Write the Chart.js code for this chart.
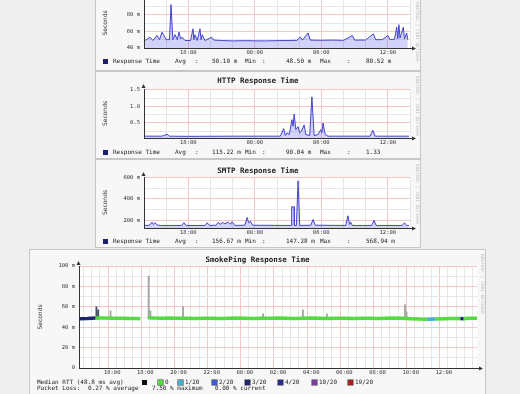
<!DOCTYPE html>
<html>
<head>
<title>Response Time Graphs</title>
<script src="https://cdn.jsdelivr.net/npm/chart.js"></script>
<style>
  body { margin: 0; width: 520px; height: 394px; overflow: hidden; position: relative; background: #efefef; }
  .panel { position: absolute; background: #f7f7f7; box-shadow: 0 0 0 1px #c6c6c6; }
  .panel canvas { position: absolute; left: 0; top: 0; }
  .txt { position: absolute; font: 6px/8px "DejaVu Sans Mono", monospace; color: #222; white-space: pre; }
  .title { position: absolute; left: 0; right: 0; text-align: center; font: bold 7.5px/8px "DejaVu Sans Mono", monospace; color: #222; }
  .sw { position: absolute; width: 5px; height: 5px; }
  .mark { position: absolute; font: 4.5px/5px "DejaVu Sans Mono", monospace; color: #bdbdbd; transform: rotate(90deg); transform-origin: left top; white-space: nowrap; }
</style>
</head>
<body>
  <div class="panel" id="pA" style="left:96px; top:-16px; width:324px; height:86px"><canvas id="cA" width="324" height="86"></canvas></div>
  <div class="panel" id="pB" style="left:96px; top:72px; width:324px; height:86px"><canvas id="cB" width="324" height="86"></canvas></div>
  <div class="panel" id="pC" style="left:96px; top:160px; width:324px; height:87px"><canvas id="cC" width="324" height="87"></canvas></div>
  <div class="panel" id="pD" style="left:30px; top:250px; width:455px; height:150px"><canvas id="cD" width="455" height="144"></canvas></div>

<script>
// 24 hours, 14:00 -> 14:00, x values are hours since start
const dayTickHours = [4, 10, 16, 22];
const dayTickLabels = ['18:00', '00:00', '06:00', '12:00'];

const topHours = [0.1, 0.54, 0.8, 1.17, 1.4, 1.62, 1.8, 2.0, 2.3, 2.44, 2.6, 2.8, 3.0, 3.16, 3.3, 3.43, 3.7, 4.2, 4.42, 4.5,
  4.6, 4.8, 5.05, 5.15, 5.25, 5.5, 6.1, 6.3, 7, 8, 9, 10, 11, 12, 13, 13.8, 14.1, 14.3, 14.8, 15.0,
  16, 17, 18, 18.8, 19.0, 20, 20.7, 20.9, 21.5, 22.0, 22.2, 22.6, 22.8, 22.9, 23.0, 23.1, 23.4, 23.5, 23.7, 23.8];
const topValues = [49, 53, 49, 55, 50, 59, 55, 50, 50, 92, 50, 56, 50, 59, 51, 53, 49, 49, 63, 50,
  56, 49, 63, 50, 56, 49, 53, 49.5, 49, 48.5, 48.8, 48.6, 48.5, 48.8, 49, 49.2, 53, 49.5, 58, 49.5,
  49.3, 49.5, 49.2, 55, 49.5, 49.6, 57, 50, 50, 55, 50, 50.5, 65, 51, 68, 52, 65, 51, 58, 50];
const topStats = ['50.10 m', '48.50 m', '80.52 m'];

const httpHours = [0.1, 1.6, 1.8, 2.08, 2.3, 4, 8, 12.3, 12.6, 12.75, 12.9, 13.1, 13.35, 13.45, 13.55, 13.7, 13.9,
  14.05, 14.2, 14.45, 14.6, 14.95, 15.15, 15.35, 15.7, 15.95, 16.05, 16.15, 16.35, 16.6, 20.4, 20.65, 20.85, 23.9];
const httpValues = [0.1, 0.1, 0.12, 0.16, 0.1, 0.095, 0.1, 0.1, 0.33, 0.12, 0.2, 0.15, 0.6, 0.4, 0.77, 0.3, 0.39,
  0.2, 0.25, 0.44, 0.15, 0.12, 1.29, 0.12, 0.15, 0.3, 0.2, 0.5, 0.15, 0.1, 0.1, 0.28, 0.1, 0.1];
const httpStats = ['115.22 m', '90.04 m', '1.33'];

const smtpHours = [0.1, 0.5, 0.72, 0.85, 1.0, 1.2, 1.5, 3.4, 3.6, 3.8, 5.5, 5.7, 5.9, 6.5, 6.7, 6.85, 7.1, 7.3, 7.6,
  7.8, 7.95, 8.2, 9.1, 9.3, 9.45, 9.6, 9.8, 13.3, 13.32, 13.55, 13.57, 13.75, 13.9, 14.05, 15.05, 15.25, 15.45,
  18.2, 18.4, 18.55, 18.65, 18.8, 20.55, 20.75, 20.95, 23.3, 23.5, 23.7, 23.9];
const smtpValues = [150, 152, 182, 160, 175, 155, 150, 150, 176, 150, 150, 176, 150, 152, 180, 160, 178, 165, 182,
  162, 185, 150, 152, 225, 175, 190, 152, 150, 325, 325, 150, 150, 569, 150, 152, 205, 152,
  150, 241, 160, 180, 150, 150, 198, 150, 150, 175, 150, 150];
const smtpStats = ['156.67 m', '147.28 m', '568.94 m'];

const pingTickHours = [2, 4, 6, 8, 10, 12, 14, 16, 18, 20, 22];
const pingTickLabels = ['16:00', '18:00', '20:00', '22:00', '00:00', '02:00', '04:00', '06:00', '08:00', '10:00', '12:00'];
const medianHours = [0, 0.5, 1, 1.5, 2, 2.5, 3, 3.5, 3.7, 3.9, 4.15, 4.5, 5, 5.5, 6, 6.5, 7, 7.5, 8, 8.5,
  9, 9.5, 10, 10.5, 11, 11.5, 12, 12.5, 13, 13.5, 14, 14.5, 15, 15.5, 16, 16.5, 17, 17.5, 18, 18.5,
  19, 19.5, 20, 20.5, 21, 21.5, 22, 22.5, 23, 23.2, 23.5, 24];
const medianValues = [48.4, 48.6, 49.0, 48.9, 48.7, 48.8, 48.6, 48.5, 48.3, null, 49.3, 49.0, 48.8, 48.9, 48.7, 48.8, 48.6, 48.7, 48.8, 48.6,
  48.7, 48.9, 48.8, 48.6, 48.7, 48.8, 48.9, 48.7, 48.6, 48.8, 48.9, 48.7, 48.6, 48.8, 48.7, 48.6, 48.8, 48.7, 48.6, 48.8,
  48.9, 48.7, 48.4, 48.0, 47.8, 48.0, 48.4, 48.6, 48.5, 48.3, 48.7, 48.8];
const medianLoss = [3, 3, 0, 0, 0, 0, 0, 0, 0, 0, 0, 0, 0, 0, 0, 0, 0, 0, 0, 0,
  0, 0, 0, 0, 0, 0, 0, 0, 0, 0, 0, 0, 0, 0, 0, 0, 0, 0, 0, 0,
  0, 0, 0, 0, 1, 0, 0, 0, 3, 0, 0, 0];
const smokeHours = [1.05, 1.15, 1.9, 4.2, 4.3, 6.27, 11.1, 13.5, 14.95, 19.66, 19.75];
const smokeLow = [48, 48, 49, 49, 49, 49, 49, 49, 49, 49, 49];
const smokeHigh = [60, 57, 56, 90, 56, 60, 53, 57, 53, 62, 55];
const lossLabels = ['0', '1/20', '2/20', '3/20', '4/20', '10/20', '19/20'];
const lossColors = ['#52dc3e', '#3fb0d0', '#3a5fcf', '#1e2470', '#2c2a8c', '#7e3c9e', '#a02424'];

const MAJOR = '#f5c6c6', MINOR = '#e6e6e6';
const tickFont = { family: 'DejaVu Sans Mono', size: 5.5 };

function steps(a, b, s) { const r = []; for (let v = a; v <= b + 1e-9; v += s) r.push(v); return r; }

const plotBg = {
  id: 'plotBg',
  beforeDraw(c) {
    const a = c.chartArea;
    c.ctx.save();
    c.ctx.fillStyle = '#ffffff';
    c.ctx.fillRect(a.left, a.top, a.right - a.left, a.bottom - a.top);
    c.ctx.restore();
  }
};
const axisArrows = {
  id: 'axisArrows',
  afterDraw(c) {
    const a = c.chartArea, ctx = c.ctx;
    ctx.save();
    ctx.strokeStyle = ctx.fillStyle = '#333';
    ctx.lineWidth = 1;
    ctx.beginPath(); ctx.moveTo(a.right, a.bottom + 0.5); ctx.lineTo(a.right + 3, a.bottom + 0.5); ctx.stroke();
    ctx.beginPath(); ctx.moveTo(a.right + 6, a.bottom + 0.5); ctx.lineTo(a.right + 2, a.bottom - 1.5); ctx.lineTo(a.right + 2, a.bottom + 2.5); ctx.fill();
    ctx.beginPath(); ctx.moveTo(a.left - 0.5, a.top - 5); ctx.lineTo(a.left - 2.5, a.top - 1); ctx.lineTo(a.left + 1.5, a.top - 1); ctx.fill();
    ctx.restore();
  }
};

function label(list, labels) {
  return v => { const i = list.indexOf(v); return i < 0 ? '' : labels[i]; };
}

function rrdChart(id, o) {
  return new Chart(document.getElementById(id), {
    type: 'line',
    data: { datasets: o.datasets },
    options: {
      responsive: false,
      animation: false,
      events: [],
      layout: { padding: { top: o.top, right: o.right, bottom: 0, left: 0 } },
      plugins: { legend: { display: false }, tooltip: { enabled: false } },
      elements: { point: { radius: 0 }, line: { tension: 0 } },
      scales: {
        x: {
          type: 'linear', min: 0, max: 24, offset: false,
          afterFit: s => { s.height = o.bottom; },
          afterBuildTicks: s => { s.ticks = o.xGrid.map(v => ({ value: v })); },
          ticks: { autoSkip: false, maxRotation: 0, padding: 1, color: '#333', font: tickFont,
                   callback: label(o.xMajor, o.xLabels) },
          grid: { drawTicks: false, color: c => (c.tick && o.xMajor.includes(c.tick.value)) ? MAJOR : MINOR },
          border: { color: '#333' }
        },
        y: {
          type: 'linear', min: o.yMin, max: o.yMax,
          afterFit: s => { s.width = o.left; },
          afterBuildTicks: s => { s.ticks = o.yGrid.map(v => ({ value: v })); },
          ticks: { autoSkip: false, padding: 4, color: '#333', font: tickFont,
                   callback: label(o.yMajor, o.yLabels) },
          grid: { drawTicks: false, color: c => (c.tick && o.yMajor.includes(c.tick.value)) ? MAJOR : MINOR },
          border: { color: '#333' },
          title: { display: true, text: 'Seconds', color: '#333', font: { family: 'DejaVu Sans', size: 6 },
                   padding: { top: o.titlePad, bottom: 0 } }
        }
      }
    },
    plugins: [plotBg, axisArrows]
  });
}

function respSeries(hours, values) {
  return {
    data: hours.map((h, i) => ({ x: h, y: values[i] })),
    borderColor: '#4444cc', borderWidth: 1,
    backgroundColor: 'rgba(110,110,235,0.3)', fill: 'start'
  };
}

const dayGrid = steps(0, 24, 2);

rrdChart('cA', {
  top: 14, right: 10, bottom: 22, left: 48, titlePad: 5.4,
  xGrid: dayGrid, xMajor: dayTickHours, xLabels: dayTickLabels,
  yMin: 40, yMax: 100, yGrid: steps(40, 100, 10), yMajor: [40, 60, 80], yLabels: ['40 m', '60 m', '80 m'],
  datasets: [respSeries(topHours, topValues)]
});
rrdChart('cB', {
  top: 17, right: 10, bottom: 20, left: 48, titlePad: 5.4,
  xGrid: dayGrid, xMajor: dayTickHours, xLabels: dayTickLabels,
  yMin: 0.045, yMax: 1.53, yGrid: [0.25, 0.5, 0.75, 1.0, 1.25, 1.5], yMajor: [0.5, 1.0, 1.5], yLabels: ['0.5', '1.0', '1.5'],
  datasets: [respSeries(httpHours, httpValues)]
});
rrdChart('cC', {
  top: 17, right: 10, bottom: 19, left: 48, titlePad: 5.4,
  xGrid: dayGrid, xMajor: dayTickHours, xLabels: dayTickLabels,
  yMin: 126, yMax: 605, yGrid: [200, 300, 400, 500, 600], yMajor: [200, 400, 600], yLabels: ['200 m', '400 m', '600 m'],
  datasets: [respSeries(smtpHours, smtpValues)]
});
rrdChart('cD', {
  top: 16, right: 8, bottom: 26, left: 49, titlePad: 6.4,
  xGrid: steps(0, 24, 0.5), xMajor: pingTickHours, xLabels: pingTickLabels,
  yMin: 0, yMax: 100, yGrid: steps(0, 100, 10), yMajor: [0, 20, 40, 60, 80, 100],
  yLabels: ['0', '20 m', '40 m', '60 m', '80 m', '100 m'],
  datasets: [
    {
      data: medianHours.map((h, i) => ({ x: h, y: medianValues[i] })),
      borderWidth: 3.5, borderColor: lossColors[0], spanGaps: false,
      segment: { borderColor: c => lossColors[medianLoss[c.p0DataIndex]] }
    },
    {
      type: 'bar',
      data: smokeHours.map((h, i) => ({ x: h, y: [smokeLow[i], smokeHigh[i]] })),
      barThickness: 1.2, grouped: false,
      backgroundColor: c => c.dataIndex < 2 ? '#4a5068' : '#a4a4a4'
    }
  ]
});

// titles, legends and watermarks
function put(panel, x, y, text, cls) {
  const el = document.createElement('div');
  el.className = cls || 'txt';
  el.style.left = x + 'px';
  el.style.top = (y - 4) + 'px';
  el.textContent = text;
  document.getElementById(panel).appendChild(el);
  return el;
}
function swatch(panel, x, y, color, border) {
  const el = document.createElement('div');
  el.className = 'sw';
  el.style.left = x + 'px';
  el.style.top = (y - 2.5) + 'px';
  el.style.background = color;
  if (border) el.style.boxShadow = '0 0 0 0.6px ' + border;
  document.getElementById(panel).appendChild(el);
}
function title(panel, y, text) {
  const el = put(panel, 0, y, text, 'title');
  el.style.left = '0px';
}
function respLegend(panel, y, stats) {
  swatch(panel, 7, y, '#1f1f70');
  put(panel, 17, y, 'Response Time');
  put(panel, 79, y, 'Avg'); put(panel, 99, y, ':'); put(panel, 116, y, stats[0]);
  put(panel, 149, y, 'Min'); put(panel, 166, y, ':'); put(panel, 190, y, stats[1]);
  put(panel, 224, y, 'Max'); put(panel, 251, y, ':'); put(panel, 270, y, stats[2]);
}

title('pB', 9, 'HTTP Response Time');
title('pC', 11, 'SMTP Response Time');
title('pD', 10, 'SmokePing Response Time');
respLegend('pA', 77, topStats);
respLegend('pB', 80, httpStats);
respLegend('pC', 81, smtpStats);

put('pD', 7, 132, 'Median RTT (48.8 ms avg)');
swatch('pD', 112, 132, '#111');
const lossX = [128, 148, 182, 215, 248, 282, 318];
lossLabels.forEach((t, i) => {
  swatch('pD', lossX[i], 132, lossColors[i], '#555');
  put('pD', lossX[i] + 7, 132, t);
});
put('pD', 7, 138, 'Packet Loss:');
put('pD', 58, 138, '0.27 % average');
put('pD', 122, 138, '7.50 % maximum');
put('pD', 185, 138, '0.00 % current');

['pA', 'pB', 'pC'].forEach(p => {
  const m = put(p, 324, 4, 'RRDTOOL / TOBI OETIKER', 'mark');
  m.style.top = (p === 'pA' ? 18 : 4) + 'px';
});
const md = put('pD', 455, 4, 'RRDTOOL / TOBI OETIKER', 'mark');
md.style.top = '4px';
</script>
</body>
</html>
